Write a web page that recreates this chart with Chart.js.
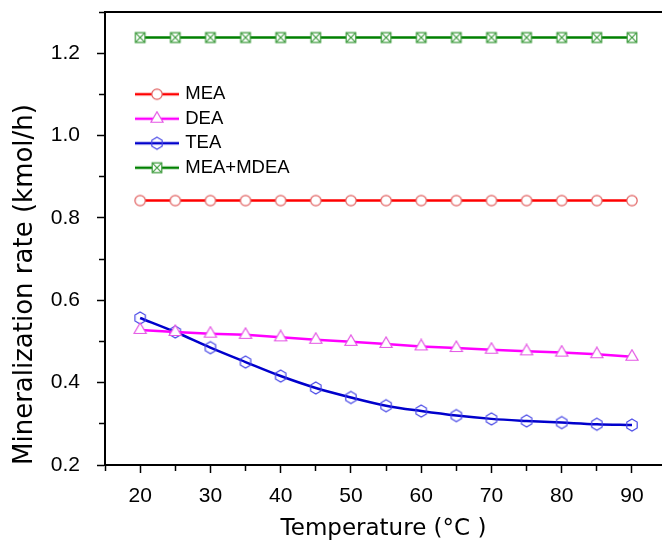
<!DOCTYPE html>
<html>
<head>
<meta charset="utf-8">
<script src="https://cdn.jsdelivr.net/npm/chart.js@4.4.0/dist/chart.umd.min.js"></script>
<style>
  html, body { margin: 0; padding: 0; background: #fff; }
  #wrap { width: 662px; height: 544px; }
</style>
</head>
<body>
<div id="wrap"><canvas id="myChart" width="662" height="544"></canvas></div>
<script>
// temperatures (°C) and mineralization rates (kmol/h)
var temperatures = [20, 25, 30, 35, 40, 45, 50, 55, 60, 65, 70, 75, 80, 85, 90];
var meaRate  = [0.842, 0.842, 0.842, 0.842, 0.842, 0.842, 0.842, 0.842, 0.842, 0.842, 0.842, 0.842, 0.842, 0.842, 0.842];
var deaRate  = [0.528, 0.523, 0.519, 0.516, 0.510, 0.504, 0.499, 0.494, 0.488, 0.484, 0.480, 0.476, 0.473, 0.469, 0.463];
var teaRate  = [0.557, 0.523, 0.485, 0.450, 0.416, 0.387, 0.364, 0.344, 0.331, 0.320, 0.312, 0.307, 0.303, 0.299, 0.297];
var mdeaRate = [1.238, 1.238, 1.238, 1.238, 1.238, 1.238, 1.238, 1.238, 1.238, 1.238, 1.238, 1.238, 1.238, 1.238, 1.238];

var seriesNames = ["MEA", "DEA", "TEA", "MEA+MDEA"];
var xTickLabels = [20, 30, 40, 50, 60, 70, 80, 90];
var yTickLabels = ["0.2", "0.4", "0.6", "0.8", "1.0", "1.2"];

// line colour, marker outline colour and marker shape per series
var styles = [
  { line: "#ff0000", marker: "#e05a5a", shape: "circle", fill: "#ffffff" },
  { line: "#ff00ff", marker: "#e455e4", shape: "triangle", fill: "#ffffff" },
  { line: "#0000cc", marker: "#4545e6", shape: "hexagon", fill: null },
  { line: "#008000", marker: "#3d9b3d", shape: "boxx", fill: "#ffffff" }
];

function drawMarker(c, st, x, y) {
  c.strokeStyle = st.marker;
  c.lineWidth = 1.2;
  c.beginPath();
  if (st.shape === "circle") {
    c.arc(x, y, 5.2, 0, Math.PI * 2);
  } else if (st.shape === "triangle") {
    var r = 7;
    c.moveTo(x, y - r);
    c.lineTo(x + r * 0.866, y + r * 0.5);
    c.lineTo(x - r * 0.866, y + r * 0.5);
    c.closePath();
  } else if (st.shape === "hexagon") {
    for (var k = 0; k < 6; k++) {
      var a = (-90 + 60 * k) * Math.PI / 180;
      var px = x + 6 * Math.cos(a), py = y + 6 * Math.sin(a);
      if (k === 0) c.moveTo(px, py); else c.lineTo(px, py);
    }
    c.closePath();
  } else {
    c.rect(x - 4.8, y - 4.8, 9.6, 9.6);
  }
  if (st.fill) { c.fillStyle = st.fill; c.fill(); }
  c.stroke();
  if (st.shape === "boxx") {
    c.beginPath();
    c.moveTo(x - 4.8, y - 4.8); c.lineTo(x + 4.8, y + 4.8);
    c.moveTo(x + 4.8, y - 4.8); c.lineTo(x - 4.8, y + 4.8);
    c.stroke();
  }
}

function markerImage(st) {
  var cv = document.createElement("canvas");
  cv.width = 16; cv.height = 16;
  drawMarker(cv.getContext("2d"), st, 8, 8);
  return cv;
}

// legend sample: short line with the marker in the middle
function legendImage(st) {
  var cv = document.createElement("canvas");
  cv.width = 44; cv.height = 16;
  var c = cv.getContext("2d");
  c.strokeStyle = st.line;
  c.lineWidth = 2.5;
  c.beginPath(); c.moveTo(0, 8); c.lineTo(44, 8); c.stroke();
  drawMarker(c, st, 22, 8);
  return cv;
}

var seriesValues = [meaRate, deaRate, teaRate, mdeaRate];
var datasets = seriesNames.map(function (name, i) {
  return {
    label: name,
    data: seriesValues[i].map(function (v, j) { return { x: temperatures[j], y: v }; }),
    borderColor: styles[i].line,
    backgroundColor: styles[i].line,
    borderWidth: 2.5,
    pointStyle: markerImage(styles[i]),
    pointRadius: 6,
    pointHoverRadius: 6,
    cubicInterpolationMode: name === "TEA" ? "monotone" : "default",
    tension: 0
  };
});

function isMajorX(v) { return xTickLabels.indexOf(Math.round(v)) >= 0 && Math.abs(v - Math.round(v)) < 1e-6; }
function yLabel(v) { var s = v.toFixed(1); return yTickLabels.indexOf(s) >= 0 ? s : ""; }

// moves the legend block into the upper left of the plot
var legendPlacer = {
  id: "legendPlacer",
  afterLayout: function (chart) {
    var lg = chart.legend, area = chart.chartArea;
    lg.left = area.left + 27; lg.top = area.top + 67;
    lg.right = lg.left + lg.width; lg.bottom = lg.top + lg.height;
  }
};

Chart.defaults.font.family = "'Liberation Sans', Arial, sans-serif";
Chart.defaults.color = "#000";

var ctx = document.getElementById("myChart").getContext("2d");
var myChart = new Chart(ctx, {
  type: "line",
  data: { labels: temperatures, datasets: datasets },
  plugins: [legendPlacer],
  options: {
    responsive: false,
    animation: false,
    devicePixelRatio: 1,
    layout: { padding: 0, autoPadding: false },
    plugins: {
      tooltip: { enabled: false },
      legend: {
        position: "chartArea",
        align: "start",
        labels: {
          usePointStyle: true,
          pointStyleWidth: 38,
          padding: 6,
          font: { size: 18.5 },
          generateLabels: function (chart) {
            return chart.data.datasets.map(function (ds, i) {
              return {
                text: ds.label,
                pointStyle: legendImage(styles[i]),
                fontColor: "#000",
                fillStyle: "transparent",
                strokeStyle: "transparent",
                lineWidth: 0,
                hidden: false,
                datasetIndex: i
              };
            });
          }
        }
      }
    },
    scales: {
      x: {
        type: "linear",
        position: "bottom",
        min: 15,
        max: 94.27,
        afterFit: function (s) { s.height = 79; s.paddingLeft = 0; s.paddingRight = 0; },
        ticks: {
          stepSize: 5,
          includeBounds: false,
          autoSkip: false,
          maxRotation: 0,
          padding: 11,
          font: { size: 21 },
          callback: function (v) { return isMajorX(v) ? String(v) : ""; }
        },
        grid: {
          drawOnChartArea: false,
          tickLength: 8,
          tickColor: "#000",
          tickWidth: 1.5,
          tickBorderDash: function (c) { return c.tick && isMajorX(c.tick.value) ? [] : [5, 100]; }
        },
        border: { color: "#000", width: 2 },
        title: {
          display: true,
          text: "Temperature (°C )",
          font: { family: "'DejaVu Sans', sans-serif", size: 23, lineHeight: 1 },
          padding: { top: 0, bottom: 3 }
        }
      },
      xTop: {
        type: "linear",
        position: "top",
        min: 15,
        max: 94.27,
        afterFit: function (s) { s.height = 12; s.paddingLeft = 0; s.paddingRight = 0; },
        ticks: { display: false },
        grid: { display: true, drawOnChartArea: false, drawTicks: false },
        border: { color: "#000", width: 2 }
      },
      y: {
        min: 0.2,
        max: 1.3,
        afterFit: function (s) { s.width = 105; s.paddingTop = 0; s.paddingBottom = 0; },
        ticks: {
          stepSize: 0.1,
          includeBounds: false,
          autoSkip: false,
          padding: 17,
          font: { size: 21 },
          callback: function (v) { return yLabel(v); }
        },
        grid: {
          drawOnChartArea: false,
          tickLength: 8,
          tickColor: "#000",
          tickWidth: 1.5,
          tickBorderDash: function (c) { return c.tick && yLabel(c.tick.value) ? [] : [0, 2, 5, 100]; }
        },
        border: { color: "#000", width: 2 },
        title: {
          display: true,
          text: "Mineralization rate (kmol/h)",
          align: "start",
          font: { family: "'DejaVu Sans', sans-serif", size: 26, lineHeight: 1 },
          padding: { top: 12, bottom: 0 }
        }
      }
    }
  }
});
</script>
</body>
</html>
